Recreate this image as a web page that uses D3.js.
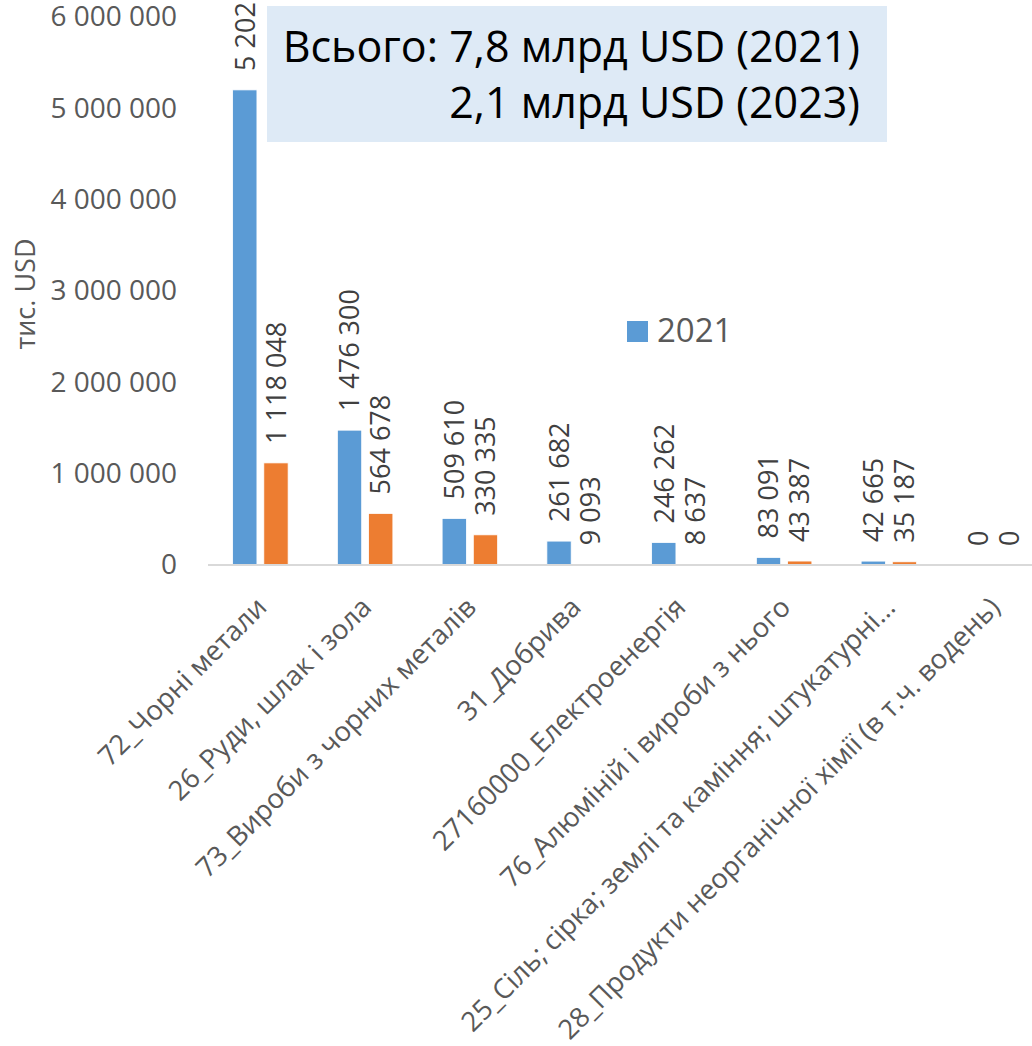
<!DOCTYPE html>
<html>
<head>
<meta charset="utf-8">
<script src="https://cdn.jsdelivr.net/npm/d3@7"></script>
<style>
  body { margin: 0; background: #fff; }
  svg { display: block; font-family: "Open Sans", sans-serif; }
</style>
</head>
<body>
<script>

var categories = [
  "72_Чорні метали",
  "26_Руди, шлак і зола",
  "73_Вироби з чорних металів",
  "31_Добрива",
  "27160000_Електроенергія",
  "76_Алюміній і вироби з нього",
  "25_Сіль; сірка; землі та каміння; штукатурні…",
  "28_Продукти неорганічної хімії (в т.ч. водень)"
];
var years = ["2021", "2023"];
var values2021 = [5202000, 1476300, 509610, 261682, 246262, 83091, 42665, 0];
var values2023 = [1118048, 564678, 330335, 9093, 8637, 43387, 35187, 0];
var yTicks = [0, 1000000, 2000000, 3000000, 4000000, 5000000, 6000000];
var totalLines = ["Всього: 7,8 млрд USD (2021)", "2,1 млрд USD (2023)"];

var W = 1032, H = 1046;
var colors = ["#5B9BD5", "#ED7D31"];

var svg = d3.select("body").append("svg")
    .attr("width", W)
    .attr("height", H);

var x = d3.scaleBand()
    .domain(categories)
    .range([208, 1046])
    .paddingInner(0.47)
    .paddingOuter(0.235);

var xs = d3.scaleBand()
    .domain(years)
    .range([0, x.bandwidth()])
    .paddingInner(0.22);

var y = d3.scaleLinear()
    .domain([0, 6000000])
    .range([565, 17]);

// thousands with spaces
var fmt = function(v) { return d3.format(",")(v).replace(/,/g, " "); };

// y axis labels
var yAxis = d3.axisLeft(y)
    .tickValues(yTicks)
    .tickSize(0)
    .tickPadding(0)
    .tickFormat(fmt);

var gy = svg.append("g")
    .attr("transform", "translate(177,0)")
    .call(yAxis);
gy.select(".domain").remove();
gy.selectAll("text")
    .attr("fill", "#595959")
    .style("font-size", "28px")
    .style("font-family", "Open Sans");

svg.append("text")
    .attr("transform", "translate(35,294) rotate(-90)")
    .attr("text-anchor", "middle")
    .attr("fill", "#595959")
    .style("font-size", "27px")
    .text("тис. USD");

// bars
var series = [values2021, values2023];
var groups = svg.selectAll(".grp")
    .data(categories)
    .enter().append("g")
    .attr("class", "grp")
    .attr("transform", d => `translate(${x(d)},0)`);

groups.each(function(cat, i) {
  var g = d3.select(this);
  years.forEach(function(yr, k) {
    var v = series[k][i];
    g.append("rect")
      .attr("x", xs(yr))
      .attr("width", xs.bandwidth())
      .attr("y", y(v))
      .attr("height", Math.max(0, y(0) - y(v)))
      .attr("fill", colors[k])
      .attr("stroke", "#fff")
      .attr("stroke-width", 0.8);
    var cx = xs(yr) + xs.bandwidth() / 2;
    g.append("text")
      .attr("transform", `translate(${cx},${y(v) - 19}) rotate(-90)`)
      .attr("dy", "0.36em")
      .attr("fill", "#404040")
      .style("font-size", "27px")
      .text(fmt(v));
  });
});

// baseline
svg.append("line")
    .attr("x1", 208).attr("x2", W)
    .attr("y1", y(0)).attr("y2", y(0))
    .attr("stroke", "#D9D9D9")
    .attr("stroke-width", 2);

// x labels
var xAxis = d3.axisBottom(x).tickSize(0).tickPadding(0);
var gx = svg.append("g")
    .attr("transform", `translate(0,${y(0)})`)
    .call(xAxis);
gx.select(".domain").remove();
gx.selectAll("text")
    .attr("fill", "#595959")
    .style("font-size", "27.5px")
    .style("font-family", "Open Sans")
    .attr("text-anchor", "end")
    .attr("dy", null)
    .attr("y", 0)
    .attr("transform", "translate(8,44) rotate(-45)");

// legend
var leg = svg.append("g").attr("transform", "translate(627,321)");
leg.append("rect").attr("width", 21).attr("height", 21).attr("fill", colors[0]);
leg.append("text")
    .attr("x", 30).attr("y", 21)
    .attr("fill", "#595959")
    .style("font-size", "33px")
    .text(years[0]);

// total box
svg.append("rect")
    .attr("x", 267).attr("y", 6)
    .attr("width", 620).attr("height", 136)
    .attr("fill", "#DEEAF6");

svg.selectAll(".total")
    .data(totalLines)
    .enter().append("text")
    .attr("class", "total")
    .attr("x", 860)
    .attr("y", (d, i) => 62 + i * 56)
    .attr("text-anchor", "end")
    .attr("fill", "#000")
    .style("font-size", "43px")
    .text(d => d);

</script>
</body>
</html>
